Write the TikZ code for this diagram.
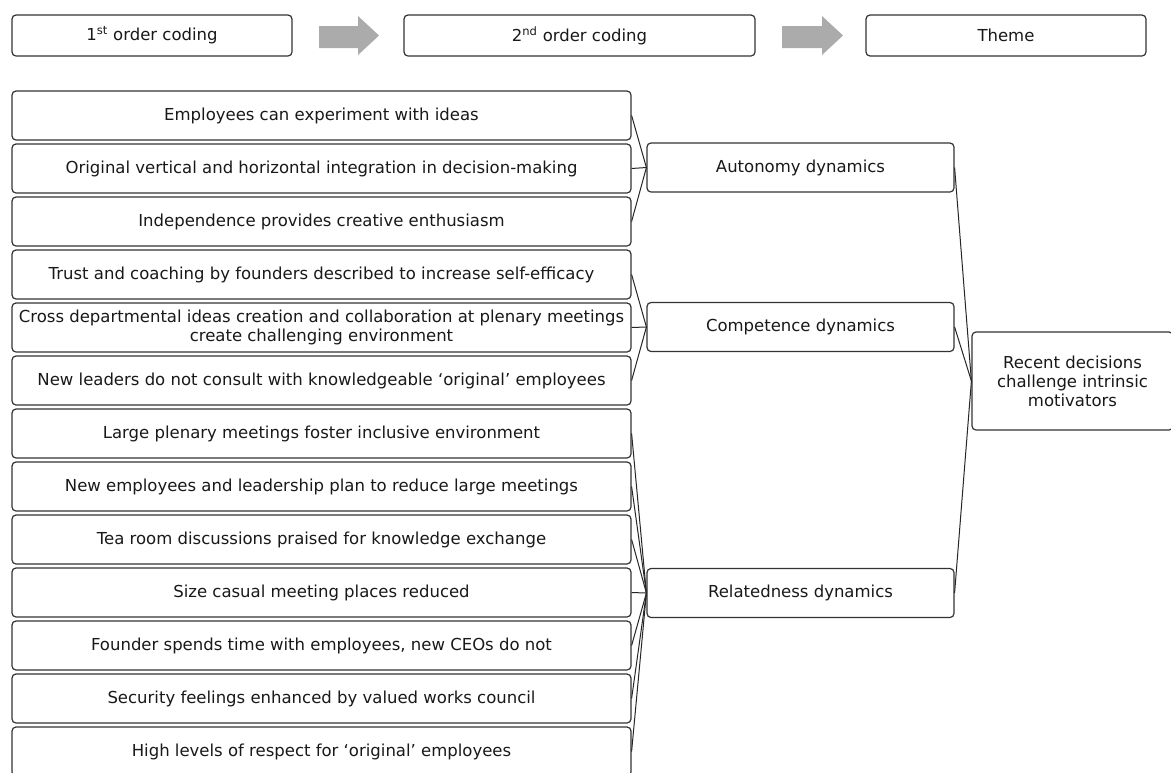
\documentclass[tikz,border=0pt]{standalone}
\usepackage{fontspec}
\setmainfont{DejaVu Sans}
\begin{document}
\begin{tikzpicture}[x=1pt,y=-1pt,
  txt/.style={font=\fontsize{16.5}{19}\selectfont, text=black!90},
  box/.style={txt, draw=black!80, line width=1.2pt, rounded corners=4pt,
    fill=white, inner sep=0pt, align=center, minimum height=49pt},
  code/.style={box, minimum width=619pt},
  cat/.style={box, minimum width=307pt},
  head/.style={box, minimum height=41pt},
  link/.style={draw=black!85, line width=1pt},
  flow/.style={fill=black!33, draw=none}]
\clip (0,0) rectangle (1171,772);
\fill[white] (0,0) rectangle (1171,772);

% header row
\node[head, minimum width=280pt] (h1) at (152,35.5) {1\textsuperscript{st} order coding};
\node[head, minimum width=351pt] (h2) at (579.5,35.5) {2\textsuperscript{nd} order coding};
\node[head, minimum width=280pt] (h3) at (1006,35.5) {Theme};
\fill[flow] (319,26) -- (358,26) -- (358,16) -- (379,35.5) -- (358,55) -- (358,48) -- (319,48) -- cycle;
\fill[flow] (782,26) -- (822,26) -- (822,16) -- (843,35.5) -- (822,55) -- (822,48) -- (782,48) -- cycle;

% first order codes
\node[code] (c1)  at (321.5,115.5) {Employees can experiment with ideas};
\node[code] (c2)  at (321.5,168.5) {Original vertical and horizontal integration in decision-making};
\node[code] (c3)  at (321.5,221.5) {Independence provides creative enthusiasm};
\node[code] (c4)  at (321.5,274.5) {Trust and coaching by founders described to increase self-efficacy};
\node[code] (c5)  at (321.5,327.5) {Cross departmental ideas creation and collaboration at plenary meetings\\create challenging environment};
\node[code] (c6)  at (321.5,380.5) {New leaders do not consult with knowledgeable ‘original’ employees};
\node[code] (c7)  at (321.5,433.5) {Large plenary meetings foster inclusive environment};
\node[code] (c8)  at (321.5,486.5) {New employees and leadership plan to reduce large meetings};
\node[code] (c9)  at (321.5,539.5) {Tea room discussions praised for knowledge exchange};
\node[code] (c10) at (321.5,592.5) {Size casual meeting places reduced};
\node[code] (c11) at (321.5,645.5) {Founder spends time with employees, new CEOs do not};
\node[code] (c12) at (321.5,698.5) {Security feelings enhanced by valued works council};
\node[code] (c13) at (321.5,751.5) {High levels of respect for ‘original’ employees};

% second order categories
\node[cat] (aut) at (800.5,167.5) {Autonomy dynamics};
\node[cat] (com) at (800.5,327) {Competence dynamics};
\node[cat] (rel) at (800.5,593) {Relatedness dynamics};

% theme
\node[box, minimum width=201pt, minimum height=98pt] (thm) at (1072.5,381)
  {Recent decisions\\challenge intrinsic\\motivators};

% connectors
\foreach \c in {c1,c2,c3} \draw[link] (\c.east) -- (aut.west);
\foreach \c in {c4,c5,c6} \draw[link] (\c.east) -- (com.west);
\foreach \c in {c7,c8,c9,c10,c11,c12,c13} \draw[link] (\c.east) -- (rel.west);
\foreach \c in {aut,com,rel} \draw[link] (\c.east) -- (thm.west);
\end{tikzpicture}
\end{document}
